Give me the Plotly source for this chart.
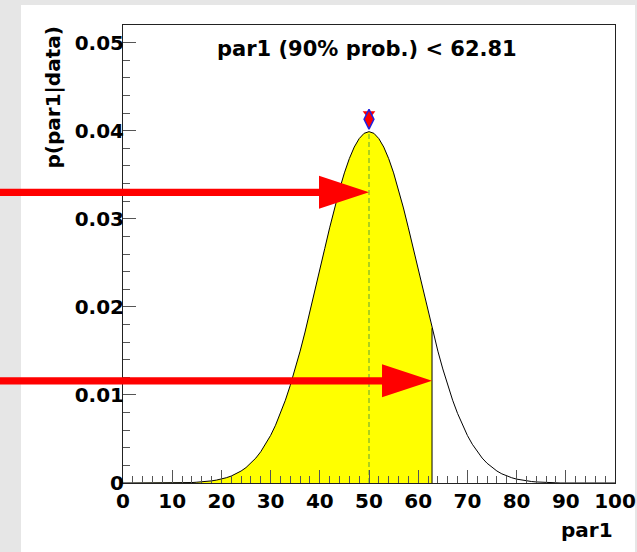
import plotly.graph_objects as go

# ---------------- data ----------------
par1_x = list(range(0, 101))
density = [
    0, 0, 0, 0, 0, 0, 0, 0, 0, 0,                      # 0-9
    0, 0, 0, 0, 0.00005, 0.00009, 0.00012, 0.00017, 0.00024, 0.00033,   # 10-19
    0.00044, 0.00060, 0.00079, 0.00104, 0.00136, 0.00175, 0.00224, 0.00283, 0.00355, 0.00440,  # 20-29
    0.00540, 0.00656, 0.00790, 0.00940, 0.01109, 0.01295, 0.01497, 0.01714, 0.01942, 0.02179,  # 30-39
    0.02420, 0.02661, 0.02897, 0.03123, 0.03332, 0.03521, 0.03683, 0.03814, 0.03910, 0.03970,  # 40-49
    0.03989,                                                                                   # 50
    0.03970, 0.03910, 0.03814, 0.03683, 0.03521, 0.03332, 0.03123, 0.02897, 0.02661, 0.02420,  # 51-60
    0.02179, 0.01942, 0.01714, 0.01497, 0.01295, 0.01109, 0.00940, 0.00790, 0.00656, 0.00540,  # 61-70
    0.00440, 0.00355, 0.00283, 0.00224, 0.00175, 0.00136, 0.00104, 0.00079, 0.00060, 0.00044,  # 71-80
    0.00033, 0.00024, 0.00017, 0.00012, 0.00009, 0.00005, 0, 0, 0, 0,                          # 81-90
    0, 0, 0, 0, 0, 0, 0, 0, 0, 0,                                                              # 91-100
]
mode_x = 50
upper_limit = 62.81          # 90% probability upper limit
limit_height = 0.01757       # curve height at the limit
marker_tri_y = 0.0419        # red triangle marker above the mode
marker_dia_y = 0.0413        # blue diamond marker above the mode
arrow_tip_x = [mode_x, upper_limit]
arrow_y = [0.033, 0.0116]
x_tickvals_step = 10
y_tickvals_step = 0.01

# ---------------- layout geometry ----------------
W, H = 637, 552
ML, MR, MT, MB = 123, 22, 25, 69
PW, PH = W - ML - MR, H - MT - MB
XR = [0, 100]
YR = [0, 0.052]

FONT = "DejaVu Sans"
peak = max(density)

fig = go.Figure()

# yellow 90% region
fill_x = [x for x in par1_x if x <= upper_limit] + [upper_limit]
fill_y = [d for x, d in zip(par1_x, density) if x <= upper_limit] + [limit_height]
fig.add_trace(go.Scatter(x=fill_x, y=fill_y, mode="lines", line=dict(width=0),
                         fill="tozeroy", fillcolor="#ffff00", hoverinfo="skip",
                         showlegend=False))
# limit edge
fig.add_trace(go.Scatter(x=[upper_limit, upper_limit], y=[0, limit_height], mode="lines",
                         line=dict(color="black", width=1), showlegend=False))
# mode dashed line
fig.add_trace(go.Scatter(x=[mode_x, mode_x], y=[0, peak], mode="lines",
                         line=dict(color="#78b430", width=1.2, dash="5px,3px"),
                         showlegend=False))
# posterior curve
fig.add_trace(go.Scatter(x=par1_x, y=density, mode="lines",
                         line=dict(color="black", width=1), showlegend=False))
# mode markers
fig.add_trace(go.Scatter(x=[mode_x], y=[marker_tri_y], mode="markers",
                         marker=dict(symbol="triangle-down", size=11, color="#ff0000",
                                     line=dict(width=0)), showlegend=False))
fig.add_trace(go.Scatter(x=[mode_x], y=[marker_dia_y], mode="markers",
                         marker=dict(symbol="diamond-tall", size=14, color="#ff0000",
                                     line=dict(color="#2020e0", width=1.5)), showlegend=False))

shapes = []
# white canvas panel over grey page
shapes.append(dict(type="rect", xref="paper", yref="paper", layer="below",
                   x0=-(ML - 21) / PW, x1=1 + (W - 2 - (ML + PW)) / PW,
                   y0=-MB / PH - 0.01, y1=1 + (MT - 5) / PH,
                   fillcolor="white", line=dict(width=0)))
# red arrows
HEAD_L, HEAD_H, SHAFT_H = 50, 16.5, 3.6
for tx, ty in zip(arrow_tip_x, arrow_y):
    fx = (tx - XR[0]) / (XR[1] - XR[0])
    fy = (ty - YR[0]) / (YR[1] - YR[0])
    tail = ML + fx * PW + 5
    path = (f"M0,0 L{-HEAD_L},{HEAD_H} L{-HEAD_L},{SHAFT_H} L{-tail},{SHAFT_H} "
            f"L{-tail},{-SHAFT_H} L{-HEAD_L},{-SHAFT_H} L{-HEAD_L},{-HEAD_H} Z")
    shapes.append(dict(type="path", xref="paper", yref="paper",
                       xsizemode="pixel", ysizemode="pixel",
                       xanchor=fx, yanchor=fy, path=path,
                       fillcolor="#ff0000", line=dict(width=0), layer="above"))

annotations = [
    dict(text=f"<b>par1 (90% prob.) < {upper_limit:.2f}</b>", xref="paper", yref="paper",
         x=(367 - ML) / PW, y=1 - (49 - MT) / PH, xanchor="center", yanchor="middle",
         showarrow=False, font=dict(family=FONT, size=21, color="black")),
    dict(text="<b>p(par1|data)</b>", xref="paper", yref="paper", textangle=-90,
         x=(52.5 - ML) / PW, y=1, xanchor="center", yanchor="top",
         showarrow=False, font=dict(family=FONT, size=20, color="black")),
    dict(text="<b>par1</b>", xref="paper", yref="paper",
         x=1, y=-(530 - (MT + PH)) / PH, xanchor="right", yanchor="middle",
         showarrow=False, font=dict(family=FONT, size=20, color="black")),
]

axis_common = dict(showgrid=False, zeroline=False, showline=True, linecolor="#222222",
                   linewidth=1, mirror=True, ticks="inside", ticklen=13, tickwidth=1,
                   tickcolor="#555555", automargin=False,
                   tickfont=dict(family=FONT, size=20, color="black", weight="bold"))

fig.update_layout(
    width=W, height=H, margin=dict(l=ML, r=MR, t=MT, b=MB, autoexpand=False),
    paper_bgcolor="#e6e6e6", plot_bgcolor="white",
    xaxis=dict(range=XR, tickmode="linear", tick0=0, dtick=x_tickvals_step,
               minor=dict(ticks="inside", ticklen=7, dtick=2, tickcolor="#555555"),
               **axis_common),
    yaxis=dict(range=YR, tickmode="linear", tick0=0, dtick=y_tickvals_step,
               minor=dict(ticks="inside", ticklen=7, dtick=0.002, tickcolor="#555555"),
               ticklabelstandoff=-6, **axis_common),
    shapes=shapes, annotations=annotations, showlegend=False,
)

fig.write_html("out.html", config={"displayModeBar": False},
               post_script="document.body.style.margin='0';document.body.style.overflow='hidden';")
